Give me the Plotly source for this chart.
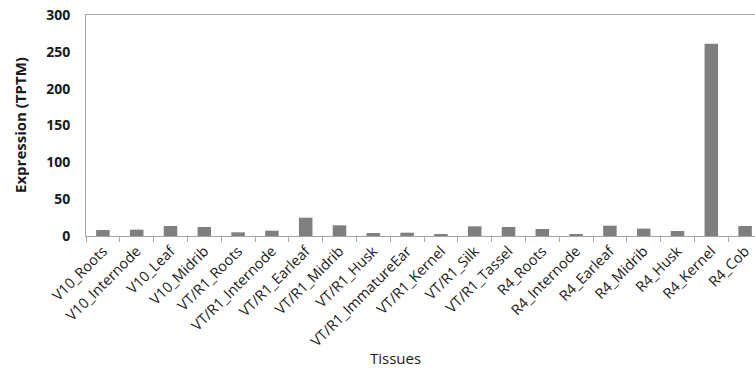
import plotly.graph_objects as go

tissues = ["V10_Roots", "V10_Internode", "V10_Leaf", "V10_Midrib", "VT/R1_Roots",
           "VT/R1_Internode", "VT/R1_Earleaf", "VT/R1_Midrib", "VT/R1_Husk",
           "VT/R1_ImmatureEar", "VT/R1_Kernel", "VT/R1_Silk", "VT/R1_Tassel",
           "R4_Roots", "R4_Internode", "R4_Earleaf", "R4_Midrib", "R4_Husk",
           "R4_Kernel", "R4_Cob"]
expression = [8.1, 8.6, 13.6, 12.2, 5.0, 7.2, 24.9, 14.5, 4.0, 4.5, 2.7, 13.1, 12.2,
              9.5, 2.3, 14.0, 10.0, 6.8, 261.0, 13.6]
y_ticks = [0, 50, 100, 150, 200, 250, 300]

W, H = 755, 368
L, R, T, B = 86, 0, 15, 132
pw, ph = W - L - R, H - T - B

fig = go.Figure(go.Bar(x=tissues, y=expression, marker=dict(color="#7f7f7f", line=dict(width=0)), width=0.4))

font_fam = "Open Sans, Lato, sans-serif"
fig.update_layout(
    width=W, height=H, margin=dict(l=L, r=R, t=T, b=B, autoexpand=False),
    plot_bgcolor="white", paper_bgcolor="white", showlegend=False,
    font=dict(family=font_fam, color="#1a1a1a"),
)
fig.update_xaxes(
    type="category", range=[-0.5, -0.5 + pw / 33.8],
    showline=True, linecolor="#a6a6a6", linewidth=1, mirror=True,
    ticks="outside", tickson="boundaries", ticklen=5, tickcolor="#a6a6a6",
    tickangle=-45, tickfont=dict(size=14.5, family=font_fam, color="#1a1a1a"),
    showgrid=False,
)
fig.update_yaxes(
    range=[0, 300], tickvals=y_ticks, showgrid=False, zeroline=False,
    showline=True, linecolor="#a6a6a6", linewidth=1, ticks="",
    ticklabelstandoff=12,
    tickfont=dict(size=14, family="Open Sans", color="#1a1a1a", weight="bold"),
)
fig.add_annotation(text="Tissues", xref="paper", yref="paper",
                   x=(395 - L) / pw, y=(236 - 358) / ph, xanchor="center", yanchor="middle",
                   showarrow=False, font=dict(size=15, family=font_fam, color="#1a1a1a"))
fig.add_annotation(text="<b>Expression (TPTM)</b>", xref="paper", yref="paper",
                   x=(20 - L) / pw, y=(236 - 125) / ph, xanchor="center", yanchor="middle",
                   textangle=-90, showarrow=False,
                   font=dict(size=15, family=font_fam, color="#1a1a1a"))
fig.write_html("out.html", config={"displayModeBar": False},
               post_script="document.body.style.margin='0';document.body.style.overflow='hidden';")
